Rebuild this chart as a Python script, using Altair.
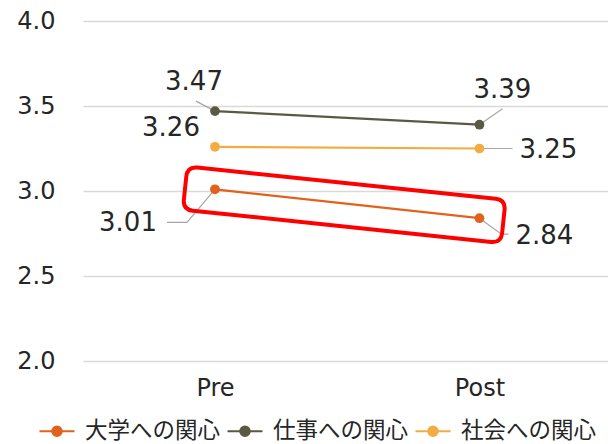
import json
import altair as alt
import pandas as pd

# ---- data ----
categories = ["Pre", "Post"]
series_names = ["大学への関心", "仕事への関心", "社会への関心"]
univ_values = [3.01, 2.84]
work_values = [3.47, 3.39]
society_values = [3.26, 3.25]
y_ticks = [2.0, 2.5, 3.0, 3.5, 4.0]

# ---- styles ----
colors = ["#E2621B", "#5A5A43", "#F2AC42"]
text_color = "#262626"
leader_color = "#A6A6A6"

# label offsets (pixels) and leader-line paths (pixels, relative to the point)
label_style = {
    ("仕事への関心", "Pre"): dict(dx=-21, dy=-29, leader="M0,0L-19,-10"),
    ("仕事への関心", "Post"): dict(dx=23, dy=-35, leader="M0,0L23,-16"),
    ("社会への関心", "Pre"): dict(dx=-44, dy=-19, leader=None),
    ("社会への関心", "Post"): dict(dx=69, dy=1, leader="M0,0L33,0"),
    ("大学への関心", "Pre"): dict(dx=-87, dy=34, leader="M0,0L-28,33L-48,33"),
    ("大学への関心", "Post"): dict(dx=65, dy=18, leader="M0,0L22,16L29,16"),
}

# rounded rectangle (pixels) for the highlight box
hw, hh, r = 160, 21.7, 10
box_path = (
    f"M{-hw + r},{-hh}L{hw - r},{-hh}Q{hw},{-hh} {hw},{-hh + r}"
    f"L{hw},{hh - r}Q{hw},{hh} {hw - r},{hh}"
    f"L{-hw + r},{hh}Q{-hw},{hh} {-hw},{hh - r}"
    f"L{-hw},{-hh + r}Q{-hw},{-hh} {-hw + r},{-hh}Z"
)
legend_symbol = "M-1,0L1,0M-0.27,0A0.27,0.27,0,1,1,0.27,0A0.27,0.27,0,1,1,-0.27,0Z"

rows = []
for s, vals in zip(series_names, [univ_values, work_values, society_values]):
    for i, (c, v) in enumerate(zip(categories, vals)):
        rows.append({"idx": i, "cat": c, "series": s, "value": v, "key": f"{s}|{c}"})
df = pd.DataFrame(rows)

x_scale = alt.Scale(domain=[-0.499, 1.486], nice=False, zero=False)
y_scale = alt.Scale(domain=[2, 4], nice=False, zero=False)

x_axis = alt.Axis(
    values=[0, 1],
    labelExpr=json.dumps(categories) + "[datum.value]",
    domain=False, ticks=False, tickSize=0, grid=False, labelFlush=False,
    labelFontSize=24, labelPadding=15, labelColor=text_color, labelFont="DejaVu Sans",
    title=None,
)
y_axis = alt.Axis(
    values=y_ticks, format=".1f",
    domain=False, ticks=False, tickSize=0,
    grid=True, gridColor="#D9D9D9", gridWidth=1.3,
    labelFontSize=24, labelPadding=28, labelColor=text_color, labelFont="DejaVu Sans",
    title=None,
)

X = alt.X("idx:Q", scale=x_scale, axis=x_axis)
Y = alt.Y("value:Q", scale=y_scale, axis=y_axis)
color = alt.Color(
    "series:N",
    scale=alt.Scale(domain=series_names, range=colors),
    legend=alt.Legend(
        title=None, orient="none", direction="horizontal",
        legendX=-45, legendY=391,
        symbolType=legend_symbol, symbolSize=1225, symbolStrokeWidth=2.2,
        labelFontSize=22.5, labelFont="Noto Sans CJK JP", labelColor=text_color,
        labelOffset=9, columnPadding=2,
    ),
)

base = alt.Chart(df)

layers = []
# leader lines
for (s, c), st in label_style.items():
    if st["leader"] is None:
        continue
    layers.append(
        base.transform_filter(alt.datum.key == f"{s}|{c}")
        .mark_point(shape=st["leader"], size=4, filled=False, stroke=leader_color,
                    strokeWidth=1.2, opacity=1)
        .encode(x=X, y=Y)
    )

lines = base.mark_line(strokeWidth=2.2).encode(x=X, y=Y, color=color, detail="series:N")
points = base.mark_point(filled=True, size=95, opacity=1).encode(
    x=X, y=Y, color=alt.Color("series:N", scale=alt.Scale(domain=series_names, range=colors))
)
layers += [lines, points]

# data labels
for (s, c), st in label_style.items():
    layers.append(
        base.transform_filter(alt.datum.key == f"{s}|{c}")
        .mark_text(dx=st["dx"], dy=st["dy"], fontSize=26, font="DejaVu Sans",
                   color=text_color, align="center", baseline="middle")
        .encode(x=X, y=Y, text=alt.Text("value:Q", format=".2f"))
    )

# highlight box around the first series, centred on its mean
box = (
    base.transform_filter(alt.datum.series == series_names[0])
    .transform_aggregate(cx="mean(idx)", cy="mean(value)")
    .mark_point(shape=box_path, size=4, angle=6, filled=False, stroke="#FF0000",
                strokeWidth=4, opacity=1, xOffset=-3, yOffset=1)
    .encode(x=alt.X("cx:Q", scale=x_scale, axis=x_axis), y=alt.Y("cy:Q", scale=y_scale, axis=y_axis))
)
layers.append(box)

chart = (
    alt.layer(*layers)
    .properties(
        width=525, height=340,
        padding={"left": 83, "top": 21, "right": 0, "bottom": 83},
        autosize=alt.AutoSizeParams(type="none"),
        background="white",
    )
    .configure_view(stroke=None)
)

chart.save("out.html", embed_options={"renderer": "svg", "actions": False})
